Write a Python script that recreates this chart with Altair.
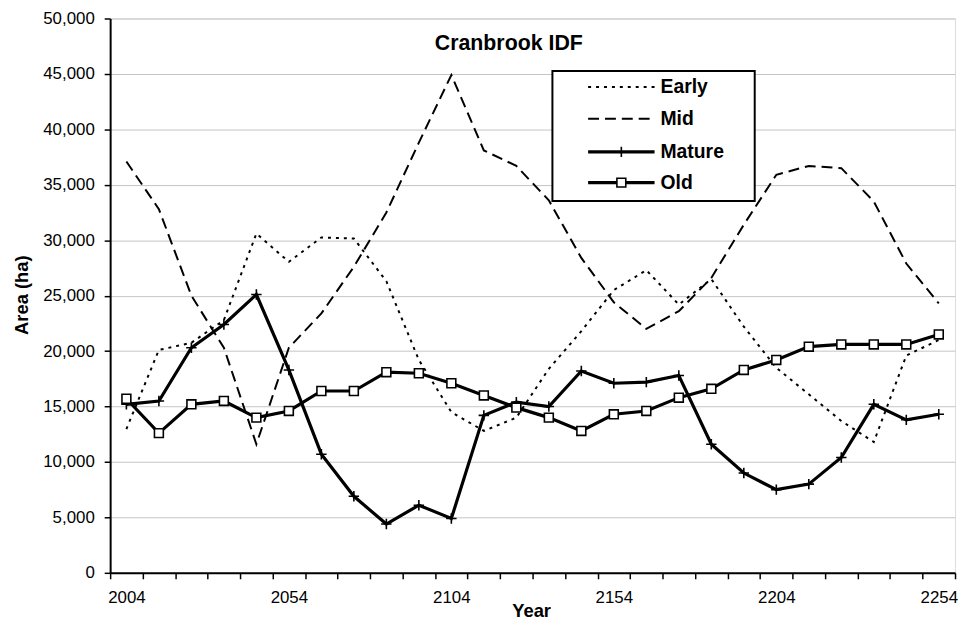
import altair as alt
import pandas as pd

years = [2004, 2014, 2024, 2034, 2044, 2054, 2064, 2074, 2084, 2094, 2104, 2114, 2124,
         2134, 2144, 2154, 2164, 2174, 2184, 2194, 2204, 2214, 2224, 2234, 2244, 2254]
early = [12970, 20100, 20750, 22800, 30600, 28050, 30250, 30150, 26300, 19200, 14500, 12800, 14000,
         18400, 21800, 25500, 27300, 24200, 26500, 22200, 18500, 16100, 13700, 11800, 19600, 21000]
mid = [37100, 32800, 25000, 20300, 11600, 20300, 23400, 27600, 32500, 38800, 44900, 38100, 36700,
       33600, 28400, 24400, 22000, 23600, 26600, 31400, 35900, 36700, 36500, 33500, 27900, 24300]
mature = [15200, 15500, 20300, 22400, 25100, 18300, 10700, 6900, 4400, 6100, 4900, 14200, 15400,
          15000, 18200, 17100, 17200, 17800, 11600, 9000, 7500, 8000, 10400, 15200, 13800, 14300]
old = [15700, 12600, 15200, 15500, 14000, 14600, 16400, 16400, 18100, 18000, 17100, 16000, 14900,
       14000, 12800, 14300, 14600, 15800, 16600, 18300, 19200, 20400, 20600, 20600, 20600, 21500]
series_names = ["Early", "Mid", "Mature", "Old"]
y_ticks = [0, 5000, 10000, 15000, 20000, 25000, 30000, 35000, 40000, 45000, 50000]
title_text = "Cranbrook IDF"
x_title = "Year"
y_title = "Area (ha)"

rows = []
for name, vals in zip(series_names, [early, mid, mature, old]):
    for yr, v in zip(years, vals):
        rows.append({"Year": yr, "Area": v, "Series": name})
df = pd.DataFrame(rows)

W, H = 852, 559
n_cat = len(years)
half_band = W / n_cat / 2
x_lo, x_hi = years[0] - 5, years[-1] + 5
boundary_ticks = [x_lo + 10 * i for i in range(n_cat + 1)]

FONT = "Liberation Sans"

xaxis = alt.Axis(
    values=boundary_ticks,
    labelExpr=f"(datum.value - {x_lo}) % 50 == 0 ? toString(datum.value + 5) : ''",
    labelOffset=half_band, labelFlush=False, labelOverlap=False, labelBound=False,
    labelFontSize=17, labelColor="black", labelFont=FONT, labelPadding=11,
    tickSize=6, tickWidth=1.5, tickColor="black",
    domainColor="black", domainWidth=2, grid=False, title=None,
)
yaxis = alt.Axis(
    values=y_ticks, format=",.0f", labelFlush=False, labelOverlap=False,
    labelFontSize=17, labelColor="black", labelFont=FONT, labelPadding=10,
    tickSize=6, tickWidth=1.5, tickColor="black",
    domainColor="black", domainWidth=2,
    grid=True, gridColor="#c4c4c4", gridWidth=1, title=None,
)

base = alt.Chart(df).encode(
    x=alt.X("Year:Q", scale=alt.Scale(domain=[x_lo, x_hi], nice=False, zero=False), axis=xaxis),
    y=alt.Y("Area:Q", scale=alt.Scale(domain=[0, 50000], nice=False), axis=yaxis),
)

styles = {
    "Early": dict(strokeWidth=2, strokeDash=[3, 5]),
    "Mid": dict(strokeWidth=2, strokeDash=[11, 6]),
    "Mature": dict(strokeWidth=3.2),
    "Old": dict(strokeWidth=3.2),
}
plus_path = "M-1,0L1,0M0,-1L0,1"

layers = []
for name in series_names:
    layers.append(base.transform_filter(alt.datum.Series == name)
                  .mark_line(color="black", **styles[name]))
    if name == "Mature":
        layers.append(base.transform_filter(alt.datum.Series == name)
                      .mark_point(shape=plus_path, size=110, filled=False, stroke="black",
                                  strokeWidth=1.6, opacity=1))
    if name == "Old":
        layers.append(base.transform_filter(alt.datum.Series == name)
                      .mark_point(shape="square", size=80, filled=True, fill="white",
                                  stroke="black", strokeWidth=1.6, opacity=1))

one = pd.DataFrame({"k": [0]})

# chart title inside plot
layers.append(alt.Chart(one).mark_text(text=title_text, font=FONT, fontSize=21.5, fontWeight="bold",
                                       color="black", align="center", baseline="middle")
              .encode(x=alt.value(402), y=alt.value(26)))
# axis titles
layers.append(alt.Chart(one).mark_text(text=x_title, font=FONT, fontSize=18.5, fontWeight="bold",
                                       color="black", align="center", baseline="alphabetic")
              .encode(x=alt.value(425), y=alt.value(603.5)))
layers.append(alt.Chart(one).mark_text(text=y_title, font=FONT, fontSize=18.5, fontWeight="bold",
                                       color="black", align="center", baseline="middle", angle=270)
              .encode(x=alt.value(-89), y=alt.value(279)))

# legend box
layers.append(alt.Chart(one).mark_rect(fill="white", stroke="black", strokeWidth=2)
              .encode(x=alt.value(446), x2=alt.value(650), y=alt.value(53), y2=alt.value(184)))
leg_y = [69, 101, 134.5, 165.5]
for name, ly in zip(series_names, leg_y):
    layers.append(alt.Chart(one).mark_rule(color="black", **styles[name])
                  .encode(x=alt.value(482), x2=alt.value(549), y=alt.value(ly)))
    if name == "Mature":
        layers.append(alt.Chart(one).mark_point(shape=plus_path, size=110, filled=False,
                                                stroke="black", strokeWidth=1.6, opacity=1)
                      .encode(x=alt.value(515.5), y=alt.value(ly)))
    if name == "Old":
        layers.append(alt.Chart(one).mark_point(shape="square", size=80, filled=True, fill="white",
                                                stroke="black", strokeWidth=1.6, opacity=1)
                      .encode(x=alt.value(515.5), y=alt.value(ly)))
    layers.append(alt.Chart(one).mark_text(text=name, font=FONT, fontSize=19.5, fontWeight="bold",
                                           color="black", align="left", baseline="middle")
                  .encode(x=alt.value(555), y=alt.value(ly)))

chart = alt.layer(*layers).properties(
    width=W, height=H,
    autosize=alt.AutoSizeParams(type="none"),
    padding={"left": 103, "top": 8, "right": 4, "bottom": 45},
).configure_view(stroke=None).configure(font=FONT, background="white")

chart.save("out.html", embed_options={"renderer": "svg", "actions": False})
